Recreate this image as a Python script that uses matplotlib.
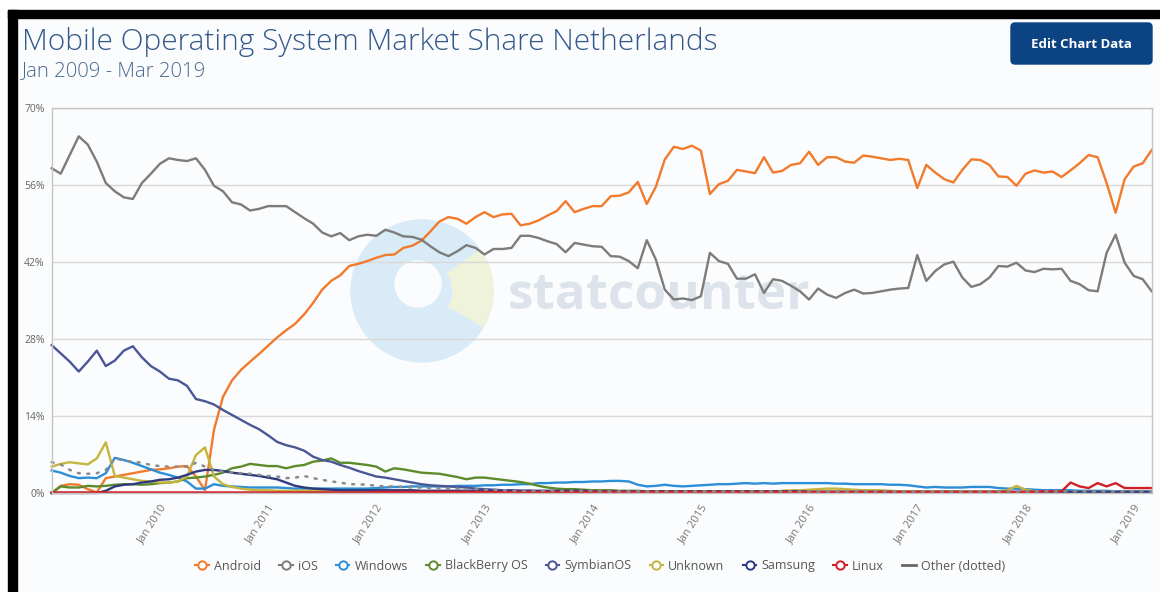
import matplotlib
matplotlib.use("Agg")
import matplotlib.pyplot as plt
from matplotlib.patches import Rectangle, FancyBboxPatch, Circle, Wedge
from matplotlib.lines import Line2D

plt.rcParams['font.family'] = ['Open Sans', 'DejaVu Sans']

# ---------------- data (monthly, Jan 2009 - Mar 2019) ----------------
tick_labels = ["Jan 2010", "Jan 2011", "Jan 2012", "Jan 2013", "Jan 2014",
               "Jan 2015", "Jan 2016", "Jan 2017", "Jan 2018", "Jan 2019"]
tick_months = [12, 24, 36, 48, 60, 72, 84, 96, 108, 120]
y_ticks = [0, 14, 28, 42, 56, 70]

android = [
    0.0, 1.3, 1.6, 1.5, 0.7, 0.1, 2.7, 3.0, 3.3, 3.6, 3.9, 4.2,
    4.3, 4.5, 4.8, 4.9, 3.0, 0.5, 11.5, 17.5, 20.5, 22.4, 23.9, 25.3,
    26.8, 28.3, 29.6, 30.8, 32.5, 34.6, 37.0, 38.6, 39.6, 41.3, 41.7, 42.2,
    42.8, 43.3, 43.4, 44.6, 45.0, 45.9, 47.6, 49.4, 50.2, 49.9, 49.0, 50.2,
    51.1, 50.2, 50.7, 50.8, 48.7, 49.0, 49.6, 50.5, 51.3, 53.1, 51.1, 51.7,
    52.2, 52.2, 54.0, 54.1, 54.7, 56.6, 52.6, 55.7, 60.7, 63.0, 62.6, 63.2,
    62.3, 54.4, 56.2, 56.8, 58.8, 58.5, 58.2, 61.1, 58.3, 58.6, 59.7, 60.0,
    62.1, 59.7, 61.1, 61.1, 60.3, 60.1, 61.4, 61.2, 60.9, 60.6, 60.8, 60.6,
    55.5, 59.7, 58.3, 57.1, 56.5, 58.8, 60.7, 60.6, 59.7, 57.6, 57.5, 55.9,
    58.1, 58.7, 58.3, 58.5, 57.5, 58.7, 60.0, 61.5, 61.1, 56.4, 51.0, 57.1,
    59.4, 60.0, 62.4]

ios = [
    59.1, 58.1, 61.5, 64.9, 63.4, 60.3, 56.4, 54.9, 53.8, 53.5, 56.4, 58.1,
    59.9, 60.9, 60.6, 60.4, 60.9, 58.8, 55.9, 54.9, 52.9, 52.5, 51.4, 51.7,
    52.2, 52.2, 52.2, 51.1, 50.0, 49.0, 47.4, 46.7, 47.3, 46.0, 46.7, 47.0,
    46.8, 47.9, 47.4, 46.7, 46.6, 46.1, 44.9, 43.8, 43.1, 44.0, 45.1, 44.6,
    43.4, 44.4, 44.4, 44.6, 46.8, 46.8, 46.4, 45.8, 45.3, 43.8, 45.5, 45.2,
    44.9, 44.8, 43.1, 43.0, 42.2, 40.9, 46.0, 42.5, 37.0, 35.2, 35.4, 35.1,
    35.8, 43.7, 42.2, 41.7, 39.0, 39.0, 39.8, 36.4, 38.9, 38.6, 37.7, 36.7,
    35.2, 37.2, 36.1, 35.5, 36.4, 37.0, 36.3, 36.4, 36.7, 37.0, 37.2, 37.3,
    43.3, 38.6, 40.4, 41.6, 42.1, 39.2, 37.5, 38.0, 39.2, 41.3, 41.2, 41.9,
    40.5, 40.2, 40.8, 40.7, 40.8, 38.6, 38.0, 36.9, 36.7, 43.7, 47.0, 41.9,
    39.5, 38.9, 36.7]

windows = [
    4.1, 3.7, 3.1, 2.7, 2.8, 2.7, 3.6, 6.4, 6.0, 5.5, 4.9, 4.3,
    3.7, 3.3, 2.8, 2.1, 0.8, 0.8, 1.6, 1.3, 1.2, 1.1, 1.0, 1.0,
    1.0, 1.0, 0.9, 0.8, 0.8, 0.8, 0.8, 0.8, 0.8, 0.8, 0.8, 0.8,
    0.9, 1.0, 1.1, 1.1, 1.2, 1.2, 1.2, 1.2, 1.2, 1.3, 1.3, 1.3,
    1.4, 1.4, 1.5, 1.5, 1.6, 1.6, 1.8, 1.8, 1.9, 1.9, 2.0, 2.0,
    2.1, 2.1, 2.2, 2.2, 2.1, 1.5, 1.2, 1.3, 1.5, 1.3, 1.2, 1.3,
    1.4, 1.5, 1.6, 1.6, 1.7, 1.8, 1.7, 1.8, 1.7, 1.8, 1.8, 1.8,
    1.8, 1.8, 1.8, 1.7, 1.7, 1.6, 1.6, 1.6, 1.6, 1.5, 1.5, 1.4,
    1.2, 1.0, 1.1, 1.0, 1.0, 1.0, 1.1, 1.1, 1.1, 0.9, 0.8, 0.8,
    0.7, 0.6, 0.5, 0.5, 0.5, 0.5, 0.4, 0.4, 0.4, 0.4, 0.3, 0.3,
    0.3, 0.3, 0.3]

blackberry = [
    0.0, 1.2, 1.0, 1.0, 1.3, 1.2, 1.3, 1.5, 1.6, 1.6, 1.5, 1.6,
    1.8, 1.9, 2.1, 2.7, 2.8, 3.0, 3.3, 3.7, 4.5, 4.8, 5.3, 5.1,
    4.9, 4.9, 4.5, 4.9, 5.1, 5.7, 5.9, 6.3, 5.5, 5.5, 5.3, 5.1,
    4.8, 3.9, 4.5, 4.3, 4.0, 3.7, 3.6, 3.5, 3.2, 2.9, 2.5, 2.8,
    2.8, 2.6, 2.4, 2.2, 2.0, 1.7, 1.3, 1.0, 0.8, 0.7, 0.7, 0.6,
    0.5, 0.5, 0.5, 0.4, 0.4, 0.4, 0.3, 0.3, 0.3, 0.3, 0.3, 0.3,
    0.3, 0.3, 0.3, 0.3, 0.3, 0.3, 0.3, 0.3, 0.3, 0.2, 0.2, 0.2,
    0.2, 0.2, 0.2, 0.2, 0.2, 0.2, 0.2, 0.2, 0.2, 0.2, 0.2, 0.2,
    0.2, 0.2, 0.2, 0.2, 0.2, 0.1, 0.1, 0.1, 0.1, 0.1, 0.1, 0.1,
    0.1, 0.1, 0.1, 0.1, 0.1, 0.1, 0.1, 0.1, 0.1, 0.1, 0.1, 0.1,
    0.1, 0.1, 0.1]

symbian = [
    26.9, 25.4, 23.9, 22.1, 23.9, 25.9, 23.1, 24.1, 25.9, 26.7, 24.7, 23.1,
    22.1, 20.8, 20.5, 19.5, 17.1, 16.7, 16.1, 15.1, 14.2, 13.3, 12.4, 11.6,
    10.5, 9.3, 8.7, 8.3, 7.7, 6.6, 6.0, 5.7, 5.1, 4.6, 4.0, 3.5,
    3.0, 2.8, 2.5, 2.2, 1.9, 1.6, 1.4, 1.3, 1.2, 1.1, 1.0, 0.8,
    0.7, 0.6, 0.5, 0.5, 0.4, 0.4, 0.3, 0.3, 0.3, 0.2, 0.2, 0.2,
    0.2, 0.2, 0.2, 0.2, 0.2, 0.2, 0.2, 0.2, 0.2, 0.2, 0.2, 0.1,
    0.1, 0.1, 0.1, 0.1, 0.1, 0.1, 0.1, 0.1, 0.1, 0.1, 0.1, 0.1,
    0.1, 0.1, 0.1, 0.1, 0.1, 0.1, 0.1, 0.1, 0.1, 0.1, 0.1, 0.1,
    0.1, 0.1, 0.1, 0.1, 0.1, 0.1, 0.1, 0.1, 0.1, 0.1, 0.1, 0.1,
    0.1, 0.1, 0.1, 0.1, 0.1, 0.1, 0.1, 0.1, 0.1, 0.1, 0.1, 0.1,
    0.1, 0.1, 0.1]

unknown = [
    4.8, 5.3, 5.6, 5.4, 5.2, 6.3, 9.2, 3.1, 2.8, 2.5, 2.2, 2.1,
    1.9, 1.9, 2.1, 3.0, 6.9, 8.3, 3.0, 1.6, 1.1, 0.8, 0.6, 0.5,
    0.5, 0.4, 0.4, 0.4, 0.4, 0.4, 0.4, 0.4, 0.4, 0.4, 0.4, 0.4,
    0.4, 0.4, 0.4, 0.4, 0.4, 0.3, 0.3, 0.3, 0.3, 0.3, 0.3, 0.3,
    0.3, 0.3, 0.3, 0.3, 0.3, 0.3, 0.3, 0.3, 0.3, 0.3, 0.3, 0.3,
    0.3, 0.3, 0.3, 0.3, 0.3, 0.3, 0.3, 0.3, 0.3, 0.3, 0.3, 0.3,
    0.3, 0.3, 0.3, 0.3, 0.3, 0.3, 0.3, 0.3, 0.3, 0.4, 0.5, 0.5,
    0.6, 0.7, 0.8, 0.8, 0.7, 0.6, 0.5, 0.5, 0.5, 0.4, 0.3, 0.3,
    0.3, 0.3, 0.3, 0.3, 0.3, 0.3, 0.3, 0.3, 0.3, 0.3, 0.5, 1.3,
    0.6, 0.3, 0.2, 0.2, 0.2, 0.2, 0.2, 0.2, 0.2, 0.2, 0.2, 0.2,
    0.2, 0.2, 0.2]

samsung = [
    0.0, 0.0, 0.0, 0.0, 0.0, 0.0, 0.4, 1.2, 1.5, 1.6, 1.9, 2.1,
    2.4, 2.5, 2.8, 3.3, 3.9, 4.2, 4.2, 4.0, 3.7, 3.5, 3.3, 3.1,
    2.8, 2.5, 1.9, 1.3, 1.0, 0.8, 0.7, 0.6, 0.5, 0.5, 0.5, 0.5,
    0.5, 0.5, 0.5, 0.5, 0.5, 0.4, 0.4, 0.4, 0.4, 0.4, 0.4, 0.4,
    0.4, 0.4, 0.4, 0.4, 0.4, 0.4, 0.4, 0.4, 0.4, 0.4, 0.4, 0.4,
    0.3, 0.3, 0.3, 0.3, 0.3, 0.3, 0.3, 0.3, 0.3, 0.3, 0.3, 0.3,
    0.3, 0.3, 0.3, 0.3, 0.3, 0.3, 0.3, 0.3, 0.3, 0.3, 0.3, 0.3,
    0.2, 0.2, 0.2, 0.2, 0.2, 0.2, 0.2, 0.2, 0.2, 0.2, 0.2, 0.2,
    0.2, 0.2, 0.2, 0.2, 0.2, 0.2, 0.2, 0.2, 0.2, 0.2, 0.2, 0.2,
    0.2, 0.2, 0.2, 0.2, 0.2, 0.2, 0.2, 0.2, 0.2, 0.2, 0.2, 0.2,
    0.2, 0.2, 0.2]

linux = [
    0.1, 0.1, 0.1, 0.1, 0.1, 0.1, 0.1, 0.1, 0.1, 0.1, 0.1, 0.1,
    0.1, 0.1, 0.1, 0.1, 0.1, 0.1, 0.1, 0.1, 0.1, 0.1, 0.1, 0.1,
    0.1, 0.1, 0.1, 0.1, 0.1, 0.1, 0.1, 0.1, 0.1, 0.1, 0.1, 0.1,
    0.2, 0.2, 0.2, 0.2, 0.2, 0.2, 0.2, 0.2, 0.2, 0.2, 0.2, 0.2,
    0.2, 0.2, 0.2, 0.2, 0.2, 0.2, 0.2, 0.2, 0.2, 0.2, 0.2, 0.2,
    0.2, 0.2, 0.2, 0.2, 0.2, 0.2, 0.2, 0.2, 0.2, 0.2, 0.2, 0.2,
    0.2, 0.2, 0.2, 0.2, 0.2, 0.2, 0.2, 0.2, 0.2, 0.2, 0.2, 0.2,
    0.2, 0.2, 0.2, 0.2, 0.2, 0.2, 0.2, 0.2, 0.2, 0.2, 0.2, 0.2,
    0.2, 0.2, 0.2, 0.2, 0.2, 0.2, 0.2, 0.2, 0.2, 0.2, 0.2, 0.2,
    0.2, 0.2, 0.3, 0.3, 0.3, 1.9, 1.2, 0.9, 1.8, 1.2, 1.8, 0.9,
    0.9, 0.9, 0.9]

other = [
    5.6, 5.2, 4.2, 3.6, 3.5, 3.6, 4.2, 6.3, 5.9, 5.7, 5.5, 5.1,
    4.9, 4.8, 4.8, 4.8, 5.5, 4.8, 4.2, 3.9, 3.7, 3.6, 3.5, 3.3,
    3.1, 3.0, 2.7, 2.8, 3.1, 2.7, 2.4, 2.1, 1.9, 1.6, 1.6, 1.5,
    1.3, 1.2, 1.2, 1.1, 1.0, 1.0, 0.9, 0.9, 0.8, 0.8, 0.7, 0.7,
    0.6, 0.6, 0.5, 0.4, 0.4, 0.4, 0.4, 0.4, 0.4, 0.4, 0.4, 0.4,
    0.4, 0.3, 0.3, 0.3, 0.3, 0.3, 0.3, 0.3, 0.3, 0.3, 0.3, 0.3,
    0.3, 0.3, 0.3, 0.3, 0.3, 0.3, 0.3, 0.3, 0.3, 0.3, 0.3, 0.3,
    0.3, 0.3, 0.3, 0.3, 0.3, 0.3, 0.3, 0.3, 0.3, 0.3, 0.3, 0.3,
    0.3, 0.3, 0.3, 0.3, 0.3, 0.3, 0.3, 0.3, 0.3, 0.3, 0.3, 0.3,
    0.3, 0.3, 0.3, 0.3, 0.3, 0.3, 0.3, 0.3, 0.3, 0.3, 0.3, 0.3,
    0.3, 0.3, 0.3]

series_names = ["Android", "iOS", "Windows", "BlackBerry OS", "SymbianOS",
                "Unknown", "Samsung", "Linux"]
series_values = [android, ios, windows, blackberry, symbian, unknown, samsung, linux]
series_colors = ["#f17a2c", "#7c7c7c", "#2b8ed7", "#5d8b2c", "#4b5696",
                 "#c6b53d", "#2e3a7e", "#d01f26"]
other_name = "Other (dotted)"
other_color = "#8a8a8a"

# ---------------- figure ----------------
W, H = 1160, 592
fig = plt.figure(figsize=(W / 100, H / 100), dpi=100)

bg = fig.add_axes([0, 0, 1, 1], zorder=0)
bg.set_xlim(0, W)
bg.set_ylim(H, 0)
bg.axis("off")
bg.add_patch(Rectangle((0, 0), W, H, color="white"))
bg.add_patch(Rectangle((17, 18), W - 17, H - 18, color="#fbfcfd"))
bg.add_patch(Rectangle((8, 10), W - 8, 8, color="black"))
bg.add_patch(Rectangle((8, 10), 9, H - 10, color="black"))

# button
bg.add_patch(FancyBboxPatch((1011, 23), 141, 41,
                            boxstyle="round,pad=0,rounding_size=4",
                            color="#0c4383"))
bg.text(1081.5, 44.5, "Edit Chart Data", color="white", fontsize=9.5,
        fontweight="bold", ha="center", va="center")

# titles
bg.text(22, 42, "Mobile Operating System Market Share Netherlands",
        fontsize=21.5, color="#34588a", va="center", fontweight="light")
bg.text(22, 71, "Jan 2009 - Mar 2019", fontsize=14.7, color="#4a6a8f",
        va="center", fontweight="light")

# watermark
bg.add_patch(Circle((422, 291), 71, color="#d9ebf7"))
bg.add_patch(Wedge((422, 291), 71, -35, 30, width=40, color="#eff3da"))
bg.add_patch(Circle((418, 284), 23, color="#fbfcfd"))
bg.text(508, 296, "statcounter", fontsize=37, fontweight="bold",
        color="#dde3eb", va="center", ha="left")

# main axes
left, right = 51.7, 1151.7
top, bottom = 108.3, 493.0
ax = fig.add_axes([left / W, 1 - bottom / H, (right - left) / W, (bottom - top) / H],
                  zorder=2)
ax.set_facecolor("none")

months = list(range(len(android)))
for name, vals, col in zip(series_names, series_values, series_colors):
    ax.plot(months, vals, color=col, lw=1.7, clip_on=False, solid_joinstyle="round")
ax.plot(months, other, color=other_color, lw=1.8, linestyle=(0, (0.8, 3.0)),
        clip_on=False, dash_capstyle="round")

ax.set_xlim(0, len(android) - 1)
ax.set_ylim(0, 70)
ax.set_yticks(y_ticks)
ax.set_yticklabels([f"{v}%" for v in y_ticks], fontsize=7.5, color="#666666")
ax.set_xticks(tick_months)
ax.set_xticklabels(tick_labels, rotation=57, ha="right", va="top",
                   rotation_mode="anchor", fontsize=8, color="#777777")
ax.tick_params(axis="both", length=0, pad=5)
ax.tick_params(axis="x", pad=7)
ax.grid(axis="y", color="#d8d8d8", lw=1)
ax.set_axisbelow(True)
for s in ["left", "right", "top", "bottom"]:
    ax.spines[s].set_color("#c4c4c4")
    ax.spines[s].set_linewidth(1)

# legend
handles = []
for col in series_colors:
    handles.append(Line2D([], [], color=col, lw=1.5, marker="o", markersize=6,
                          markerfacecolor="white", markeredgecolor=col,
                          markeredgewidth=1.4))
handles.append(Line2D([], [], color="#666666", lw=2))
labels = series_names + [other_name]
leg = fig.legend(handles, labels, loc="center", bbox_to_anchor=(600 / W, 1 - 566 / H),
                 ncol=9, frameon=False, fontsize=9, handlelength=1.1,
                 handletextpad=0.4, columnspacing=1.45)
for t in leg.get_texts():
    t.set_color("#555555")

fig.savefig("out.png", dpi=100)
